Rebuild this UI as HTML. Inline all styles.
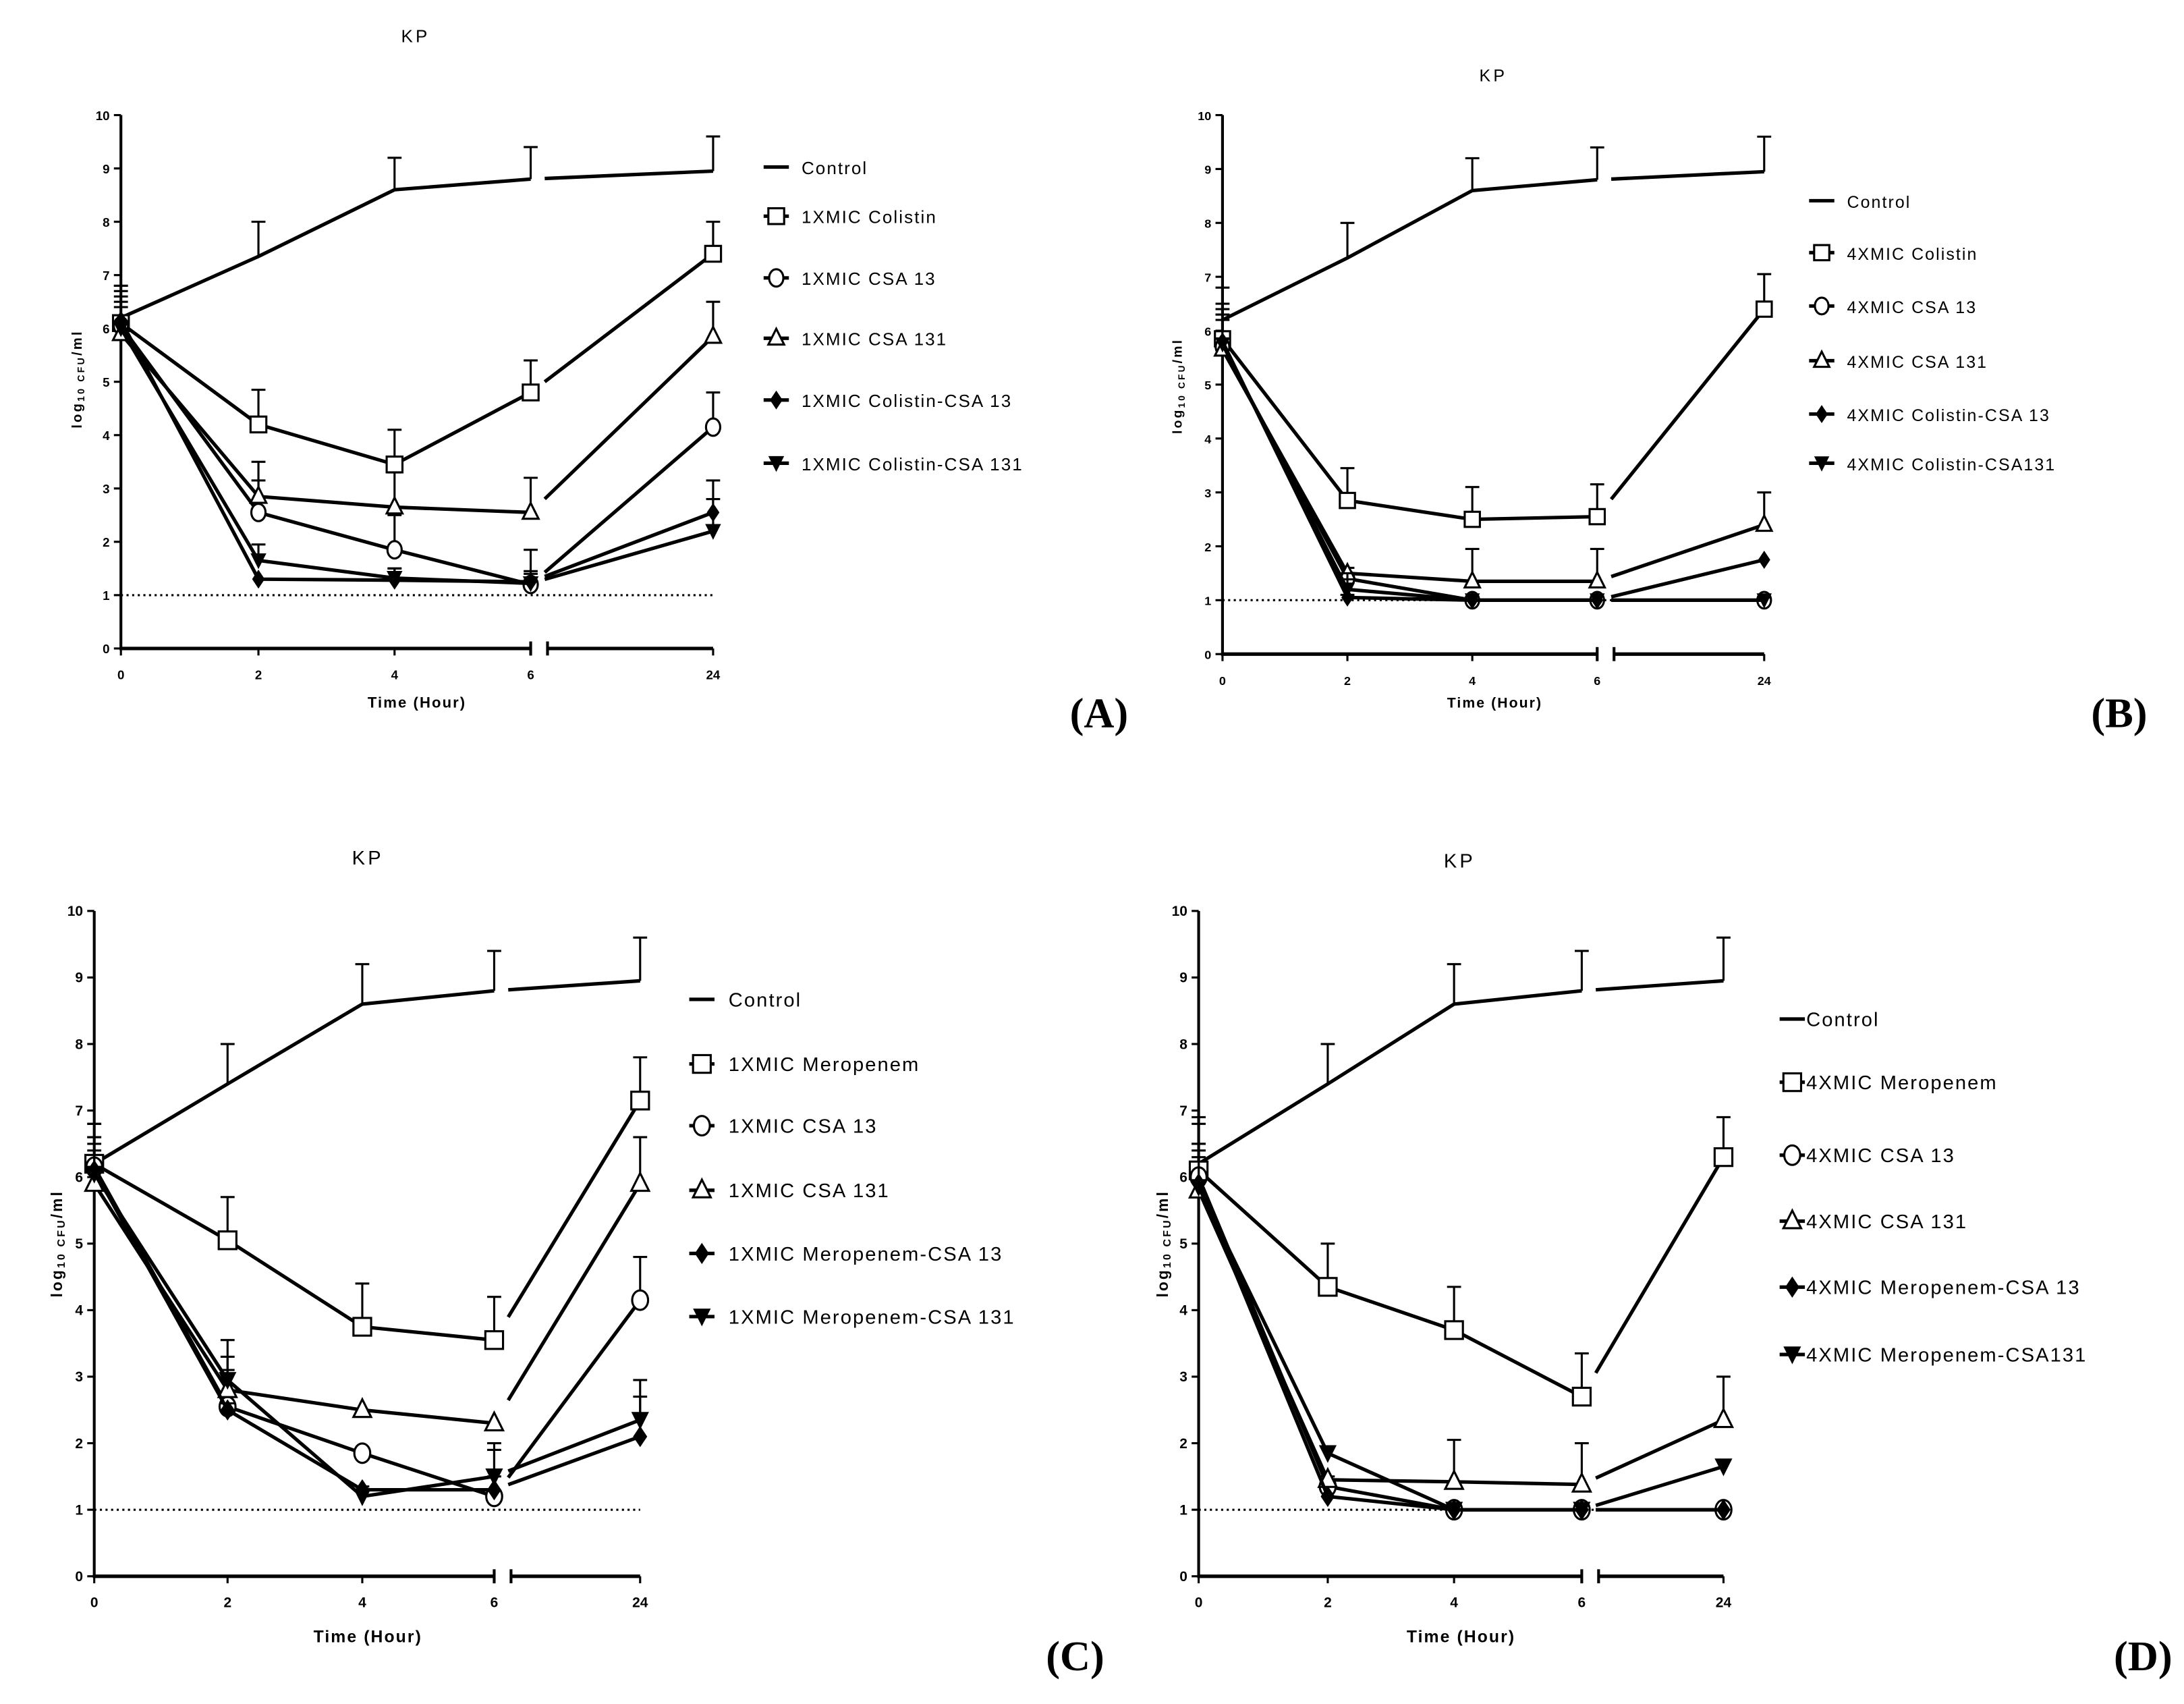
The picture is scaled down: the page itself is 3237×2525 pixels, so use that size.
<!DOCTYPE html>
<html><head><meta charset="utf-8"><style>
html,body{margin:0;padding:0;background:#fff}
svg{display:block}
text{font-family:"Liberation Sans",sans-serif;fill:#000}
</style></head><body>
<svg id="chart" width="3237" height="2525" viewBox="0 0 1556 1214" xmlns="http://www.w3.org/2000/svg"></svg>
<script>
const timeTicks=["0","2","4","6","24"];
const yTicks=[0,1,2,3,4,5,6,7,8,9,10];
// Panel A
const A_control=[6.2,7.35,8.6,8.8,8.95], A_controlErr=[6.8,8.0,9.2,9.4,9.6];
const A_drug=[6.1,4.2,3.45,4.8,7.4], A_drugErr=[6.7,4.85,4.1,5.4,8.0];
const A_csa13=[6.05,2.55,1.85,1.2,4.15], A_csa13Err=[6.5,3.15,2.5,1.85,4.8];
const A_csa131=[5.9,2.85,2.65,2.55,5.85], A_csa131Err=[6.4,3.5,3.3,3.2,6.5];
const A_combo13=[6.15,1.3,1.28,1.25,2.55], A_combo13Err=[6.8,1.3,1.5,1.45,3.15];
const A_combo131=[6.0,1.65,1.32,1.22,2.2], A_combo131Err=[6.6,1.95,1.5,1.4,2.8];
// Panel B
const B_control=[6.2,7.35,8.6,8.8,8.95], B_controlErr=[6.8,8.0,9.2,9.4,9.6];
const B_drug=[5.85,2.85,2.5,2.55,6.4], B_drugErr=[6.5,3.45,3.1,3.15,7.05];
const B_csa13=[5.7,1.4,1.0,1.0,1.0], B_csa13Err=[6.2,1.5,1.0,1.0,1.0];
const B_csa131=[5.65,1.5,1.35,1.35,2.4], B_csa131Err=[6.3,1.6,1.95,1.95,3.0];
const B_combo13=[5.8,1.05,1.0,1.0,1.75], B_combo13Err=[6.4,1.1,1.0,1.0,1.75];
const B_combo131=[5.75,1.2,1.0,1.0,1.0], B_combo131Err=[6.3,1.5,1.0,1.0,1.05];
// Panel C
const C_control=[6.2,7.4,8.6,8.8,8.95], C_controlErr=[6.8,8.0,9.2,9.4,9.6];
const C_drug=[6.2,5.05,3.75,3.55,7.15], C_drugErr=[6.6,5.7,4.4,4.2,7.8];
const C_csa13=[6.15,2.55,1.85,1.2,4.15], C_csa13Err=[6.5,3.1,1.85,1.5,4.8];
const C_csa131=[5.9,2.8,2.5,2.3,5.9], C_csa131Err=[6.4,3.3,2.5,2.1,6.6];
const C_combo13=[6.1,2.5,1.3,1.3,2.1], C_combo13Err=[6.8,2.6,1.3,1.9,2.7];
const C_combo131=[6.05,2.95,1.2,1.5,2.35], C_combo131Err=[6.6,3.55,1.35,2.0,2.95];
// Panel D
const D_control=[6.2,7.4,8.6,8.8,8.95], D_controlErr=[6.8,8.0,9.2,9.4,9.6];
const D_drug=[6.1,4.35,3.7,2.7,6.3], D_drugErr=[6.5,5.0,4.35,3.35,6.9];
const D_csa13=[6.0,1.35,1.0,1.0,1.0], D_csa13Err=[6.4,1.4,1.0,1.0,1.0];
const D_csa131=[5.8,1.45,1.42,1.38,2.35], D_csa131Err=[6.3,1.5,2.05,2.0,3.0];
const D_combo13=[5.9,1.2,1.0,1.0,1.0], D_combo13Err=[6.9,1.2,1.0,1.0,1.0];
const D_combo131=[5.85,1.85,1.0,1.0,1.65], D_combo131Err=[6.5,1.85,1.0,1.0,1.65];

const NS="http://www.w3.org/2000/svg";
const svg=document.getElementById('chart');
function mk(tag,attrs,parent,txt){const e=document.createElementNS(NS,tag);for(const k in attrs)e.setAttribute(k,attrs[k]);if(txt!==undefined)e.textContent=txt;(parent||svg).appendChild(e);return e;}

const panels=[
 {id:'a',letter:'(A)',letterPos:[783,518],xs:[86,184,281,378,508],y0:462,y10:82,title:[296,30],ylab:[58,270],xlab:[297,504],
  leg:{mx:553,tx:571,rows:[123,158,202,245,289,334]},names:['Control','1XMIC Colistin','1XMIC CSA 13','1XMIC CSA 131','1XMIC Colistin-CSA 13','1XMIC Colistin-CSA 131'],
  data:[[A_control,A_controlErr],[A_drug,A_drugErr],[A_csa13,A_csa13Err],[A_csa131,A_csa131Err],[A_combo13,A_combo13Err],[A_combo131,A_combo131Err]],fs:12.5},
 {id:'b',letter:'(B)',letterPos:[1510,518],xs:[871,960,1049,1138,1257],y0:466,y10:82,title:[1064,58],ylab:[842,275],xlab:[1065,504],
  leg:{mx:1298,tx:1316,rows:[147,184,222,261,299,334]},names:['Control','4XMIC Colistin','4XMIC CSA 13','4XMIC CSA 131','4XMIC Colistin-CSA 13','4XMIC Colistin-CSA131'],
  data:[[B_control,B_controlErr],[B_drug,B_drugErr],[B_csa13,B_csa13Err],[B_csa131,B_csa131Err],[B_combo13,B_combo13Err],[B_combo131,B_combo131Err]],fs:12},
 {id:'c',letter:'(C)',letterPos:[766,1190],xs:[67,162,258,352,456],y0:1123,y10:649,title:[262,616],ylab:[44,886],xlab:[262,1170],
  leg:{mx:500,tx:519,rows:[716,762,806,852,897,942]},names:['Control','1XMIC Meropenem','1XMIC CSA 13','1XMIC CSA 131','1XMIC Meropenem-CSA 13','1XMIC Meropenem-CSA 131'],
  data:[[C_control,C_controlErr],[C_drug,C_drugErr],[C_csa13,C_csa13Err],[C_csa131,C_csa131Err],[C_combo13,C_combo13Err],[C_combo131,C_combo131Err]],fs:14},
 {id:'d',letter:'(D)',letterPos:[1527,1190],xs:[854,946,1036,1127,1228],y0:1123,y10:649,title:[1040,618],ylab:[832,886],xlab:[1041,1170],
  leg:{mx:1277,tx:1287,rows:[730,775,827,874,921,969]},names:['Control','4XMIC Meropenem','4XMIC CSA 13','4XMIC CSA 131','4XMIC Meropenem-CSA 13','4XMIC Meropenem-CSA131'],
  data:[[D_control,D_controlErr],[D_drug,D_drugErr],[D_csa13,D_csa13Err],[D_csa131,D_csa131Err],[D_combo13,D_combo13Err],[D_combo131,D_combo131Err]],fs:14}
];
const markerNames=['control','square','circle','triangle','diamond','inverted-triangle'];

function marker(g,type,cx,cy,s){
  if(type===1) mk('rect',{x:cx-s,y:cy-s,width:2*s,height:2*s,fill:'#fff',stroke:'#000','stroke-width':1.5},g);
  else if(type===2) mk('ellipse',{cx:cx,cy:cy,rx:s*0.9,ry:s*1.1,fill:'#fff',stroke:'#000','stroke-width':1.5},g);
  else if(type===3) mk('polygon',{points:`${cx},${cy-s*1.2} ${cx-s},${cy+s*0.8} ${cx+s},${cy+s*0.8}`,fill:'#fff',stroke:'#000','stroke-width':1.5},g);
  else if(type===4) mk('polygon',{points:`${cx},${cy-s*1.2} ${cx-s*0.8},${cy} ${cx},${cy+s*1.2} ${cx+s*0.8},${cy}`,fill:'#000'},g);
  else if(type===5) mk('polygon',{points:`${cx-s},${cy-s*0.9} ${cx+s},${cy-s*0.9} ${cx},${cy+s*1.1}`,fill:'#000'},g);
}

panels.forEach(p=>{
  const g=mk('g',{});
  
  
  const Y=v=>p.y0-(p.y0-p.y10)*v/10;
  const X=i=>p.xs[i];
  const tk=mk('text',{x:p.title[0],y:p.title[1],'font-size':p.fs,'text-anchor':'middle','letter-spacing':'2'},g,'KP');
  
  
  // y axis
  const ya=mk('g',{},g);
  
  
  mk('line',{x1:X(0),y1:Y(0)+1,x2:X(0),y2:Y(10),stroke:'#000','stroke-width':2},ya);
  yTicks.forEach(v=>{
    mk('line',{x1:X(0)-5,y1:Y(v),x2:X(0),y2:Y(v),stroke:'#000','stroke-width':1.5},ya);
    const t=mk('text',{x:X(0)-8,y:Y(v)+3.5,'font-size':p.fs*0.72,'font-weight':'bold','text-anchor':'end'},ya,String(v));
    
    
  });
  const yl=mk('text',{x:0,y:0,'font-size':p.fs*0.78,'font-weight':'bold','text-anchor':'middle','letter-spacing':'1.5',transform:`translate(${p.ylab[0]},${p.ylab[1]}) rotate(-90)`},g);
  
  
  mk('tspan',{},yl,'log');
  mk('tspan',{'font-size':p.fs*0.55,dy:2},yl,'10 CFU');
  mk('tspan',{dy:-2},yl,'/ml');
  // x axis with break
  const xa=mk('g',{},g);
  
  
  mk('line',{x1:X(0)-1,y1:Y(0),x2:X(3),y2:Y(0),stroke:'#000','stroke-width':2.5},xa);
  mk('line',{x1:X(3)+12,y1:Y(0),x2:X(4),y2:Y(0),stroke:'#000','stroke-width':2.5},xa);
  mk('line',{x1:X(3),y1:Y(0)-5,x2:X(3),y2:Y(0)+5,stroke:'#000','stroke-width':2},xa);
  mk('line',{x1:X(3)+12,y1:Y(0)-5,x2:X(3)+12,y2:Y(0)+5,stroke:'#000','stroke-width':2},xa);
  timeTicks.forEach((lab,i)=>{
    mk('line',{x1:X(i),y1:Y(0),x2:X(i),y2:Y(0)+5,stroke:'#000','stroke-width':1.5},xa);
    const t=mk('text',{x:X(i),y:Y(0)+22,'font-size':p.fs*0.72,'font-weight':'bold','text-anchor':'middle'},xa,lab);
    
    
  });
  const xl=mk('text',{x:p.xlab[0],y:p.xlab[1],'font-size':p.fs*0.85,'font-weight':'bold','text-anchor':'middle','letter-spacing':'1'},g,'Time (Hour)');
  
  
  // detection limit
  const dl=mk('line',{x1:X(0),y1:Y(1),x2:X(4),y2:Y(1),stroke:'#000','stroke-width':1.5,'stroke-dasharray':'1.5,2.5'},g);
  
  
  const ms=p.fs*0.45;
  // series
  p.data.forEach((d,si)=>{
    const vals=d[0],errs=d[1];
    const sg=mk('g',{},g);
    
    
    // error bars
    vals.forEach((v,i)=>{
      if(errs[i]>v+0.02){
        mk('line',{x1:X(i),y1:Y(v),x2:X(i),y2:Y(errs[i]),stroke:'#000','stroke-width':1.5},sg);
        mk('line',{x1:X(i)-5,y1:Y(errs[i]),x2:X(i)+5,y2:Y(errs[i]),stroke:'#000','stroke-width':1.5},sg);
      }
    });
    let dstr='';
    for(let i=0;i<4;i++) dstr+=(i?'L':'M')+X(i)+','+Y(vals[i]);
    mk('path',{d:dstr,fill:'none',stroke:'#000','stroke-width':2.5},sg);
    const x6=X(3)+10, f=(x6-X(3))/(X(4)-X(3));
    const y6=Y(vals[3])+(Y(vals[4])-Y(vals[3]))*f;
    mk('line',{x1:x6,y1:y6,x2:X(4),y2:Y(vals[4]),stroke:'#000','stroke-width':2.5},sg);
    if(si>0) vals.forEach((v,i)=>marker(sg,si,X(i),Y(v),ms));
    // legend
    const ly=p.leg.rows[si];
    const le=mk('g',{},g);
    
    
    mk('line',{x1:p.leg.mx-9,y1:ly-4,x2:p.leg.mx+9,y2:ly-4,stroke:'#000','stroke-width':2.5},le);
    if(si>0) marker(le,si,p.leg.mx,ly-4,ms);
    mk('text',{x:p.leg.tx,y:ly+1,'font-size':p.fs,'letter-spacing':'1'},le,p.names[si]);
  });
  const pl=mk('text',{x:p.letterPos[0],y:p.letterPos[1],'font-size':30,'font-weight':'bold','text-anchor':'middle',style:'font-family:"Liberation Serif",serif'},g,p.letter);
  
  
});
</script>
</body></html>
